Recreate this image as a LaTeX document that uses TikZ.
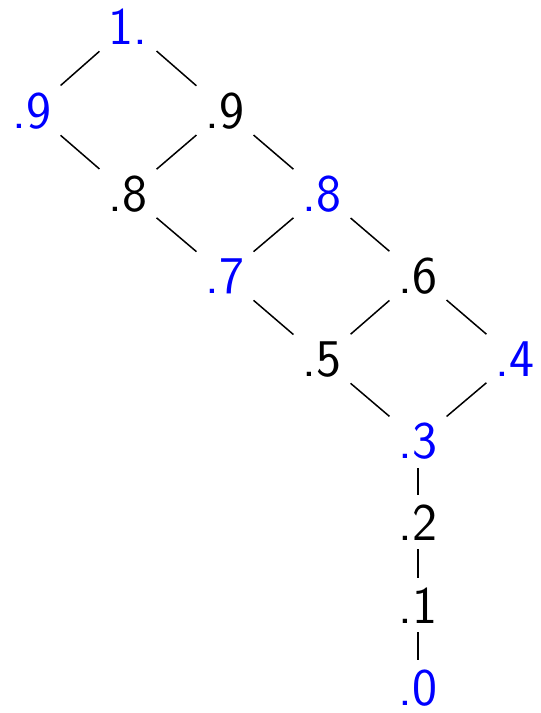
\documentclass[tikz,border=0pt]{standalone}
\begin{document}
\begin{tikzpicture}[x=1pt,y=1pt,
  v/.style={anchor=base, inner sep=9pt, font=\fontsize{53}{60}\selectfont\sffamily},
  hi/.style={v, text=blue},
  lk/.style={line width=1.5pt}]
\useasboundingbox (0,0) rectangle (541,-713);
\node[hi] (a) at (128,-44) {1.};
\node[hi] (b) at (32,-128) {.9};
\node[v]  (c) at (225,-128) {.9};
\node[v]  (d) at (128,-211) {.8};
\node[hi] (e) at (322,-211) {.8};
\node[hi] (f) at (225,-293) {.7};
\node[v]  (g) at (418,-293) {.6};
\node[v]  (h) at (322,-376) {.5};
\node[hi] (i) at (515,-376) {.4};
\node[hi] (j) at (418,-458) {.3};
\node[v]  (k) at (418,-540) {.2};
\node[v]  (l) at (418,-623) {.1};
\node[hi, inner sep=2pt] (m) at (418,-705) {.0};
\draw[lk] (a) -- (b);
\draw[lk] (a) -- (c);
\draw[lk] (b) -- (d);
\draw[lk] (c) -- (d);
\draw[lk] (c) -- (e);
\draw[lk] (d) -- (f);
\draw[lk] (e) -- (f);
\draw[lk] (e) -- (g);
\draw[lk] (f) -- (h);
\draw[lk] (g) -- (h);
\draw[lk] (g) -- (i);
\draw[lk] (h) -- (j);
\draw[lk] (i) -- (j);
\draw[lk] (j) -- (k);
\draw[lk] (k) -- (l);
\draw[lk] (l) -- ([yshift=7pt]m.north);
\end{tikzpicture}
\end{document}
